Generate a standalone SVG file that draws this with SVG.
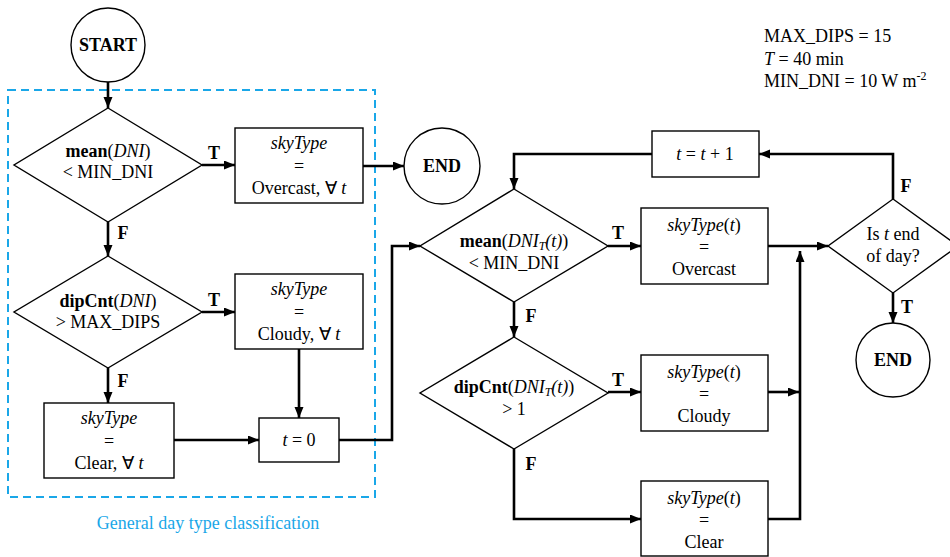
<svg xmlns="http://www.w3.org/2000/svg" width="950" height="557" viewBox="0 0 950 557">
<defs>
<marker id="ah" markerUnits="userSpaceOnUse" markerWidth="12" markerHeight="10" refX="11" refY="4.5" orient="auto">
<path d="M0,0 L11,4.5 L0,9 z" fill="#000"/>
</marker>
<style>
text{font-family:"Liberation Serif","Times New Roman",serif;font-size:18px;fill:#000}
.c{text-anchor:middle}
.b{font-weight:bold}
.i{font-style:italic}
.shape{fill:#fff;stroke:#000;stroke-width:1.4}
.conn path{fill:none;stroke:#000;stroke-width:2.6}
.arr{marker-end:url(#ah)}
.lbl{font-weight:bold;text-anchor:middle}
.blue{fill:#1aa7e8}
</style>
</defs>
<rect width="950" height="557" fill="#fff"/>

<g id="group-general">
<rect x="8" y="90" width="367" height="407" fill="none" stroke="#1aa7e8" stroke-width="2" stroke-dasharray="8,5"/>
<text class="c blue" x="208" y="529">General day type classification</text>
</g>

<g id="params">
<text x="764" y="42">MAX_DIPS = 15</text>
<text x="764" y="65"><tspan class="i">T</tspan> = 40 min</text>
<text x="764" y="87">MIN_DNI = 10 W m<tspan font-size="12" dy="-7">-2</tspan></text>
</g>

<g class="conn" id="connectors">
<path class="arr" d="M108,82 V108"/>
<path class="arr" d="M202,165 H235"/>
<path class="arr" d="M363,166 H404"/>
<path class="arr" d="M108,222 V256"/>
<path class="arr" d="M202,312 H235"/>
<path class="arr" d="M108,368 V403"/>
<path class="arr" d="M299,349 V418"/>
<path class="arr" d="M174,440 H259"/>
<path class="arr" d="M339,440 H392 V246 H420"/>
<path class="arr" d="M652,154 H514 V189"/>
<path class="arr" d="M608,246 H641"/>
<path class="arr" d="M514,302 V337"/>
<path class="arr" d="M608,392 H641"/>
<path class="arr" d="M514,449 V519 H641"/>
<path class="arr" d="M768,246 H828"/>
<path class="arr" d="M768,392 H799"/>
<path class="arr" d="M768,519 H800 V251"/>
<path class="arr" d="M893,199 V154 H759"/>
<path class="arr" d="M893,293 V323"/>
<text class="lbl" x="214" y="159">T</text>
<text class="lbl" x="123" y="239">F</text>
<text class="lbl" x="214" y="306">T</text>
<text class="lbl" x="123" y="387">F</text>
<text class="lbl" x="618" y="239">T</text>
<text class="lbl" x="531" y="322">F</text>
<text class="lbl" x="618" y="386">T</text>
<text class="lbl" x="531" y="470">F</text>
<text class="lbl" x="906" y="192">F</text>
<text class="lbl" x="907" y="313">T</text>
</g>

<g id="start">
<circle class="shape" cx="108" cy="45" r="37"/>
<text class="c b" x="108" y="51">START</text>
</g>

<g id="dec-mean">
<polygon class="shape" points="108,108 202,165 108,222 14,165"/>
<text class="c" x="108" y="157"><tspan class="b">mean</tspan>(<tspan class="i">DNI</tspan>)</text>
<text class="c" x="108" y="178">&lt; MIN_DNI</text>
</g>

<g id="box-overcast-all">
<rect class="shape" x="235" y="128" width="128" height="75"/>
<text class="c i" x="299" y="149">skyType</text>
<text class="c" x="299" y="172">=</text>
<text class="c" x="299" y="194">Overcast, ∀ <tspan class="i">t</tspan></text>
</g>

<g id="end1">
<circle class="shape" cx="442" cy="166" r="38"/>
<text class="c b" x="442" y="172">END</text>
</g>

<g id="dec-dipcnt">
<polygon class="shape" points="108,256 202,312 108,368 14,312"/>
<text class="c" x="108" y="307"><tspan class="b">dipCnt</tspan>(<tspan class="i">DNI</tspan>)</text>
<text class="c" x="108" y="328">&gt; MAX_DIPS</text>
</g>

<g id="box-cloudy-all">
<rect class="shape" x="235" y="274" width="128" height="75"/>
<text class="c i" x="299" y="295">skyType</text>
<text class="c" x="299" y="318">=</text>
<text class="c" x="299" y="340">Cloudy, ∀ <tspan class="i">t</tspan></text>
</g>

<g id="box-clear-all">
<rect class="shape" x="44" y="403" width="130" height="75"/>
<text class="c i" x="109" y="424">skyType</text>
<text class="c" x="109" y="447">=</text>
<text class="c" x="109" y="469">Clear, ∀ <tspan class="i">t</tspan></text>
</g>

<g id="box-t0">
<rect class="shape" x="259" y="418" width="80" height="44"/>
<text class="c" x="299" y="446"><tspan class="i">t</tspan> = 0</text>
</g>

<g id="box-tinc">
<rect class="shape" x="652" y="131" width="107" height="46"/>
<text class="c" x="705" y="160"><tspan class="i">t</tspan> = <tspan class="i">t</tspan> + 1</text>
</g>

<g id="dec-mean-t">
<polygon class="shape" points="514,189 608,246 514,302 420,246"/>
<text class="c" x="514" y="247"><tspan class="b">mean</tspan>(<tspan class="i">DNI<tspan font-size="12" dy="3">T</tspan><tspan dy="-3">(t)</tspan></tspan>)</text>
<text class="c" x="514" y="269">&lt; MIN_DNI</text>
</g>

<g id="dec-dipcnt-t">
<polygon class="shape" points="514,337 608,393 514,449 420,393"/>
<text class="c" x="514" y="393"><tspan class="b">dipCnt</tspan>(<tspan class="i">DNI<tspan font-size="12" dy="3">T</tspan><tspan dy="-3">(t)</tspan></tspan>)</text>
<text class="c" x="514" y="415">&gt; 1</text>
</g>

<g id="box-overcast-t">
<rect class="shape" x="641" y="208" width="127" height="76"/>
<text class="c" x="704" y="231"><tspan class="i">skyType</tspan>(<tspan class="i">t</tspan>)</text>
<text class="c" x="704" y="253">=</text>
<text class="c" x="704" y="275">Overcast</text>
</g>

<g id="box-cloudy-t">
<rect class="shape" x="641" y="355" width="127" height="76"/>
<text class="c" x="704" y="378"><tspan class="i">skyType</tspan>(<tspan class="i">t</tspan>)</text>
<text class="c" x="704" y="400">=</text>
<text class="c" x="704" y="422">Cloudy</text>
</g>

<g id="box-clear-t">
<rect class="shape" x="641" y="481" width="127" height="75"/>
<text class="c" x="704" y="504"><tspan class="i">skyType</tspan>(<tspan class="i">t</tspan>)</text>
<text class="c" x="704" y="526">=</text>
<text class="c" x="704" y="548">Clear</text>
</g>

<g id="dec-endofday">
<polygon class="shape" points="893,199 958,246 893,293 828,246"/>
<text class="c" x="893" y="240">Is <tspan class="i">t</tspan> end</text>
<text class="c" x="893" y="262">of day?</text>
</g>

<g id="end2">
<circle class="shape" cx="893" cy="360" r="37"/>
<text class="c b" x="893" y="366">END</text>
</g>
</svg>
